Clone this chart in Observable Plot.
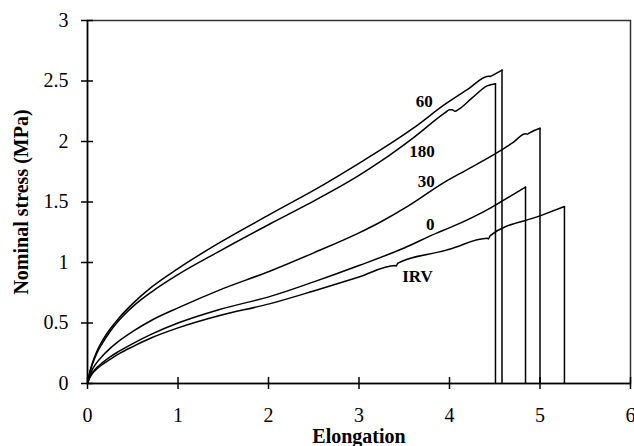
<!DOCTYPE html>
<html>
<head>
<meta charset="utf-8">
<script src="https://cdn.jsdelivr.net/npm/d3@7"></script>
<script src="https://cdn.jsdelivr.net/npm/@observablehq/plot@0.6"></script>
<style>
  html, body { margin: 0; padding: 0; background: #fff; }
  #chart { width: 634px; height: 446px; }
</style>
</head>
<body>
<div id="chart"></div>
<script>
// Tick values
const xTicks = [0, 1, 2, 3, 4, 5, 6];
const yTicks = [0, 0.5, 1, 1.5, 2, 2.5, 3];

// Series: 60
const s60x = [0, 0.02, 0.05, 0.1, 0.162, 0.25, 0.346, 0.5, 0.714, 1.0, 1.45, 2.02, 2.6, 3.0, 3.238, 3.6, 3.956, 4.2, 4.43, 4.45, 4.47, 4.58];
const s60y = [0, 0.08, 0.16, 0.26, 0.35, 0.45, 0.54, 0.66, 0.80, 0.95, 1.16, 1.40, 1.64, 1.82, 1.93, 2.11, 2.31, 2.43, 2.54, 2.537, 2.545, 2.59];
// Series: 180
const s180x = [0, 0.02, 0.05, 0.1, 0.162, 0.25, 0.346, 0.5, 0.714, 1.0, 1.45, 2.02, 2.43, 3.0, 3.238, 3.6, 3.956, 4.0, 4.03, 4.06, 4.1, 4.25, 4.416, 4.508];
const s180y = [0, 0.075, 0.15, 0.245, 0.33, 0.43, 0.52, 0.635, 0.76, 0.90, 1.09, 1.32, 1.48, 1.72, 1.835, 2.03, 2.24, 2.262, 2.262, 2.25, 2.265, 2.36, 2.46, 2.477];
// Series: 30
const s30x = [0, 0.02, 0.05, 0.1, 0.162, 0.25, 0.346, 0.5, 0.714, 1.0, 1.45, 2.02, 2.5, 3.0, 3.238, 3.55, 3.937, 4.2, 4.508, 4.7, 4.84, 4.86, 4.88, 5.0];
const s30y = [0, 0.055, 0.11, 0.17, 0.225, 0.29, 0.35, 0.43, 0.525, 0.625, 0.77, 0.93, 1.08, 1.245, 1.335, 1.47, 1.66, 1.77, 1.9, 1.99, 2.065, 2.06, 2.07, 2.11];
// Series: 0
const s0x = [0, 0.02, 0.05, 0.1, 0.162, 0.25, 0.346, 0.5, 0.714, 1.0, 1.45, 2.02, 2.5, 3.0, 3.5, 3.864, 4.01, 4.45, 4.508, 4.84];
const s0y = [0, 0.045, 0.085, 0.13, 0.17, 0.22, 0.265, 0.33, 0.41, 0.5, 0.61, 0.72, 0.84, 0.975, 1.12, 1.245, 1.29, 1.45, 1.475, 1.623];
// Series: IRV
const sIRVx = [0, 0.02, 0.05, 0.1, 0.162, 0.25, 0.346, 0.5, 0.714, 1.0, 1.45, 2.02, 2.5, 3.0, 3.4, 3.41, 3.43, 3.956, 4.01, 4.42, 4.43, 4.45, 5.0, 5.27];
const sIRVy = [0, 0.04, 0.078, 0.118, 0.155, 0.2, 0.245, 0.305, 0.38, 0.46, 0.56, 0.66, 0.765, 0.88, 0.975, 0.97, 0.995, 1.1, 1.112, 1.2, 1.195, 1.222, 1.385, 1.463];

// Curve labels
const labelText = ["60", "180", "30", "0", "IRV"];
const labelX = [3.72, 3.696, 3.744, 3.787, 3.646];
const labelY = [2.33, 1.918, 1.671, 1.311, 0.884];

const seriesDefs = [
  ["60", s60x, s60y], ["180", s180x, s180y], ["30", s30x, s30y],
  ["0", s0x, s0y], ["IRV", sIRVx, sIRVy]
];
const rows = [];
const peaks = [];
for (const [name, xs, ys] of seriesDefs) {
  xs.forEach((x, i) => rows.push({series: name, x, y: ys[i]}));
  peaks.push({series: name, x: xs[xs.length - 1], y: ys[ys.length - 1]});
}
const labels = labelText.map((t, i) => ({text: t, x: labelX[i], y: labelY[i]}));
const fmt = d => String(d);

const chart = Plot.plot({
  width: 634,
  height: 446,
  marginLeft: 87,
  marginTop: 20,
  marginRight: 4,
  marginBottom: 63,
  style: {fontFamily: "'Liberation Serif', 'Times New Roman', serif", fontSize: "20px", background: "#fff", color: "#000"},
  x: {domain: [0, 6]},
  y: {domain: [0, 3]},
  marks: [
    Plot.frame({stroke: "#333", strokeWidth: 1.5}),
    Plot.axisY(yTicks, {tickSize: 12, dx: 6, tickPadding: 13, label: null, fontSize: 20, strokeWidth: 1.5, tickFormat: fmt}),
    Plot.axisX(xTicks, {tickSize: 12, dy: -6, tickPadding: 18, label: null, fontSize: 20, strokeWidth: 1.5, tickFormat: fmt}),
    Plot.ruleY([0], {stroke: "#000", strokeWidth: 1.5}),
    Plot.ruleX([0], {stroke: "#000", strokeWidth: 1.5}),
    Plot.line(rows, {x: "x", y: "y", z: "series", curve: "monotone-x", stroke: "#000", strokeWidth: 1.5}),
    Plot.ruleX(peaks, {x: "x", y1: 0, y2: "y", stroke: "#000", strokeWidth: 1.5}),
    Plot.text(labels, {x: "x", y: "y", text: "text", fontWeight: "bold", fontSize: 17, textAnchor: "middle", lineAnchor: "middle"}),
    Plot.text(["Elongation"], {text: d => d, frameAnchor: "bottom", dy: 52.7, fontWeight: "bold", fontSize: 20, textAnchor: "middle", lineAnchor: "middle"}),
    Plot.text(["Nominal stress (MPa)"], {text: d => d, frameAnchor: "left", rotate: -90, dx: -66.4, fontWeight: "bold", fontSize: 20, textAnchor: "middle", lineAnchor: "middle"})
  ]
});
document.getElementById("chart").appendChild(chart);
</script>
</body>
</html>
